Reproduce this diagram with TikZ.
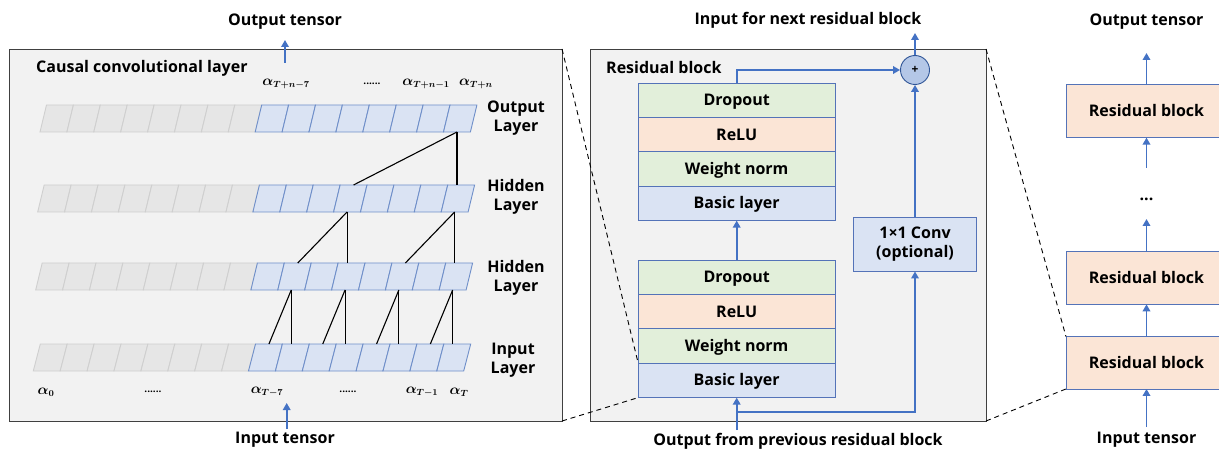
\documentclass[tikz,border=0pt]{standalone}
\usepackage{fontspec}
\setmainfont{Open Sans}
\usepackage{bm}
\usetikzlibrary{arrows.meta}
\definecolor{panelfill}{HTML}{F2F2F2}
\definecolor{paneldraw}{HTML}{404040}
\definecolor{cellgray}{HTML}{E6E6E6}
\definecolor{cellgraydraw}{HTML}{CFCFCF}
\definecolor{cellblue}{HTML}{DAE3F3}
\definecolor{cellbluedraw}{HTML}{6F8FC9}
\definecolor{gfill}{HTML}{E2EFDA}
\definecolor{pfill}{HTML}{FBE5D6}
\definecolor{bfill}{HTML}{DAE3F3}
\definecolor{stkdraw}{HTML}{5473B8}
\definecolor{arrblue}{HTML}{4472C4}
\definecolor{circfill}{HTML}{B4C7E7}
\definecolor{circdraw}{HTML}{2F5597}
\tikzset{
  txt/.style={font=\bfseries\fontsize{16}{19}\selectfont, inner sep=0pt, text=black},
  greek/.style={font=\boldmath\fontsize{13.5}{16}\selectfont, inner sep=0pt},
  panel/.style={draw=paneldraw, fill=panelfill, line width=0.9pt, anchor=north west, inner sep=0pt, outer sep=0pt},
  stk/.style={draw=stkdraw, line width=0.9pt, minimum width=197pt, minimum height=34.4pt, inner sep=0pt, outer sep=0pt, text height=12pt, text depth=1pt, font=\bfseries\fontsize{16}{18}\selectfont},
  rbox/.style={draw=stkdraw, fill=pfill, line width=0.9pt, minimum width=161pt, inner sep=0pt, outer sep=0pt, text height=12pt, text depth=1pt, font=\bfseries\fontsize{16}{18}\selectfont},
  arr/.style={draw=arrblue, line width=1.9pt, -{Triangle[length=7pt,width=7.5pt]}},
  conn/.style={draw=black, line width=1.1pt},
  zoomline/.style={draw=black, line width=0.9pt, dash pattern=on 5pt off 4pt},
}
\begin{document}
\begin{tikzpicture}[x=1pt,y=-1pt]
\useasboundingbox (0,0) rectangle (1219,449);
\fill[white] (0,0) rectangle (1219,449);

% ---------------- Left panel ----------------
\node[panel, minimum width=553pt, minimum height=372pt] (left) at (9,49) {};
\node[txt, anchor=west] (ltitle) at (36,68) {Causal convolutional layer};

% rows of cells: index, x0, top, bottom, skew
\def\w{26.9}
\foreach \r/\xo/\t/\b/\s in {1/40/105/132/6.5, 2/37.7/185/212/6.5, 3/35.7/263/290/6.5, 4/33.3/344/371/7} {
  \foreach \i in {0,...,7} {
    \draw[fill=cellgray, draw=cellgraydraw, line width=0.9pt]
      ({\xo+\i*\w},\b) -- ({\xo+(\i+1)*\w},\b) -- ({\xo+(\i+1)*\w+\s},\t) -- ({\xo+\i*\w+\s},\t) -- cycle;
  }
  \foreach \i in {8,...,15} {
    \draw[fill=cellblue, draw=cellbluedraw, line width=0.9pt]
      ({\xo+\i*\w},\b) -- ({\xo+(\i+1)*\w},\b) -- ({\xo+(\i+1)*\w+\s},\t) -- ({\xo+\i*\w+\s},\t) -- cycle;
  }
  \foreach \i in {0,...,15} {
    \coordinate (r\r t\i) at ({\xo+(\i+0.5)*\w+\s},\t);
    \coordinate (r\r b\i) at ({\xo+(\i+0.5)*\w},\b);
  }
}

% connections
\draw[conn] (r1b15) -- (r1b15 |- r2t15);
\draw[conn] (r1b15) -- (r2t11);
\draw[conn] (r2b11) -- (r2b11 |- r3t11);
\draw[conn] (r2b11) -- (r3t9);
\draw[conn] (r2b15) -- (r2b15 |- r3t15);
\draw[conn] (r2b15) -- (r3t13);
\draw[conn] (r3b9) -- (r3b9 |- r4t9);
\draw[conn] (r3b9) -- (r4t8);
\draw[conn] (r3b11) -- (r3b11 |- r4t11);
\draw[conn] (r3b11) -- (r4t10);
\draw[conn] (r3b13) -- (r3b13 |- r4t13);
\draw[conn] (r3b13) -- (r4t12);
\draw[conn] (r3b15) -- (r3b15 |- r4t15);
\draw[conn] (r3b15) -- (r4t14);

% layer labels
\node[txt, align=center] (lout) at (516,118) {Output\\Layer};
\node[txt, align=center] (lhid1) at (516,197) {Hidden\\Layer};
\node[txt, align=center] (lhid2) at (516,277.5) {Hidden\\Layer};
\node[txt, align=center] (linp) at (513,360) {Input\\Layer};

% alpha labels
\node[greek] (a1) at (286,84) {$\bm{\alpha_{T+n-7}}$};
\node[txt, font=\bfseries\fontsize{10}{12}\selectfont] (d1) at (372,84) {......};
\node[greek] (a2) at (426,84) {$\bm{\alpha_{T+n-1}}$};
\node[greek] (a3) at (476,84) {$\bm{\alpha_{T+n}}$};
\node[greek] (b0) at (46,392) {$\bm{\alpha_{0}}$};
\node[txt, font=\bfseries\fontsize{10}{12}\selectfont] (d2) at (153,392) {......};
\node[greek] (b1) at (267,392) {$\bm{\alpha_{T-7}}$};
\node[txt, font=\bfseries\fontsize{10}{12}\selectfont] (d3) at (348,392) {......};
\node[greek] (b2) at (422,392) {$\bm{\alpha_{T-1}}$};
\node[greek] (b3) at (459,392) {$\bm{\alpha_{T}}$};

% left in/out arrows
\node[txt] (louttxt) at (285,22) {Output tensor};
\coordinate (lo1) at (285,63);
\coordinate (lo2) at (285,40);
\draw[arr] (lo1) -- (lo2);
\node[txt] (lintxt) at (285,440) {Input tensor};
\coordinate (li1) at (286.7,429);
\coordinate (li2) at (286.7,403);
\draw[arr] (li1) -- (li2);

% ---------------- Middle panel ----------------
\node[panel, minimum width=396pt, minimum height=372pt] (mid) at (590,49) {};
\node[txt, anchor=west] (mtitle) at (606,67.5) {Residual block};

\node[stk, fill=gfill] (uDrop) at (736.7,100.2) {Dropout};
\node[stk, fill=pfill] (uRelu) at (736.7,134.6) {ReLU};
\node[stk, fill=gfill] (uWn) at (736.7,169) {Weight norm};
\node[stk, fill=bfill] (uBasic) at (736.7,203.4) {Basic layer};

\node[stk, fill=gfill] (lDrop) at (736.7,277.2) {Dropout};
\node[stk, fill=pfill] (lRelu) at (736.7,311.6) {ReLU};
\node[stk, fill=gfill] (lWn) at (736.7,346) {Weight norm};
\node[stk, fill=bfill] (lBasic) at (736.7,380.4) {Basic layer};

\node[draw=stkdraw, fill=bfill, line width=0.9pt, minimum width=123.5pt, minimum height=54pt, inner sep=0pt, align=center, font=\bfseries\fontsize{16}{18.5}\selectfont] (conv) at (915,244) {1×1 Conv\\(optional)};

\node[circle, draw=circdraw, fill=circfill, line width=0.9pt, minimum size=29pt, inner sep=0pt, font=\bfseries\fontsize{12}{14}\selectfont] (plus) at (915,70) {+};

\draw[arr] (lDrop.north) -- (uBasic.south);
\draw[arr] (uDrop.north) |- (plus.west);
\coordinate (nextin) at (915,33);
\draw[arr] (plus.north) -- (nextin);
\node[txt] (nexttxt) at (808,20) {Input for next residual block};
\draw[arr] (conv.north) -- (plus.south);
\coordinate (prevout) at (736.7,430);
\coordinate (branch) at (736.7,411.7);
\draw[arr] (prevout) -- (lBasic.south);
\draw[arr] (branch) -| (conv.south);
\node[txt] (prevtxt) at (798,441) {Output from previous residual block};

% ---------------- Right column ----------------
\node[rbox, minimum height=52.7pt] (rb1) at (1146.5,111.3) {Residual block};
\node[rbox, minimum height=52.7pt] (rb2) at (1146.5,278) {Residual block};
\node[rbox, minimum height=52.3pt] (rb3) at (1146.5,362.8) {Residual block};
\node[txt] (routtxt) at (1146.5,22) {Output tensor};
\node[txt] (rdots) at (1146.5,199) {...};
\node[txt] (rintxt) at (1146.5,440) {Input tensor};
\coordinate (rt) at (1146.5,53);
\coordinate (rc1) at (1146.5,167.7);
\coordinate (rc2) at (1146.5,219);
\coordinate (rc3) at (1146.5,427);
\draw[arr] (rb1.north) -- (rt);
\draw[arr] (rc1) -- (rb1.south);
\draw[arr] (rb2.north) -- (rc2);
\draw[arr] (rb3.north) -- (rb2.south);
\draw[arr] (rc3) -- (rb3.south);

% ---------------- Zoom (dashed) lines ----------------
\draw[zoomline] (left.north east) -- (lBasic.north west);
\draw[zoomline] (left.south east) -- (lBasic.south west);
\draw[zoomline] (mid.north east) -- (rb3.north west);
\draw[zoomline] (mid.south east) -- (rb3.south west);
\end{tikzpicture}
\end{document}
